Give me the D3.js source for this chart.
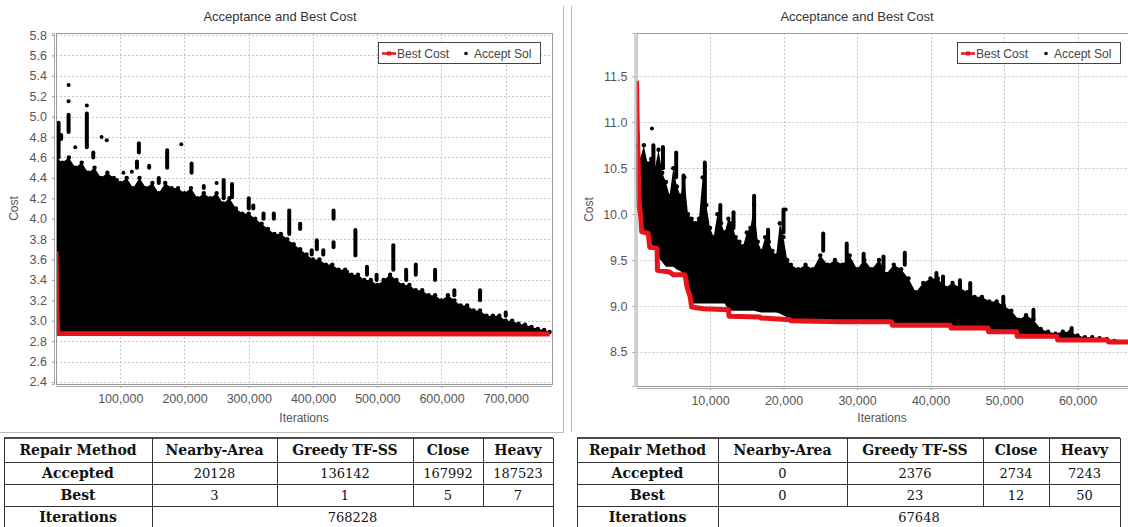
<!DOCTYPE html>
<html>
<head>
<meta charset="utf-8">
<script src="https://cdn.jsdelivr.net/npm/d3@7"></script>
<style>
  body { margin: 0; background: #fff; }
  .chart text { font-family: "Liberation Sans", Arial, sans-serif; }
  .tbl text { font-family: "DejaVu Serif", serif; fill: #111; }
</style>
</head>
<body>
<div class="canvas"></div>
<script>
// ---------- data: left run ----------
const yTicksL = [2.4, 2.6, 2.8, 3.0, 3.2, 3.4, 3.6, 3.8, 4.0, 4.2, 4.4, 4.6, 4.8, 5.0, 5.2, 5.4, 5.6, 5.8];
const xTicksL = [100000, 200000, 300000, 400000, 500000, 600000, 700000];

// best cost [iteration, cost]
const bestL = [[0, 3.68], [400, 3.5], [900, 3.2], [1500, 3.1], [2200, 2.96], [3000, 2.875], [768228, 2.87]];

// dense accepted-solution cloud [iteration, low, high]
const cloudL = [
  [0, 2.88, 4.6], [10000, 2.88, 4.55], [20000, 2.88, 4.6], [30000, 2.88, 4.5], [40000, 2.88, 4.55],
  [50000, 2.88, 4.45], [60000, 2.88, 4.5], [70000, 2.88, 4.4], [80000, 2.88, 4.45], [90000, 2.88, 4.4],
  [100000, 2.88, 4.35], [110000, 2.88, 4.4], [120000, 2.88, 4.3], [130000, 2.88, 4.4], [140000, 2.88, 4.3],
  [150000, 2.88, 4.35], [160000, 2.88, 4.25], [170000, 2.88, 4.35], [180000, 2.88, 4.3], [190000, 2.88, 4.3],
  [200000, 2.88, 4.25], [210000, 2.88, 4.3], [220000, 2.88, 4.2], [230000, 2.88, 4.25], [240000, 2.88, 4.2],
  [250000, 2.88, 4.25], [260000, 2.88, 4.15], [270000, 2.88, 4.2], [280000, 2.88, 4.1], [290000, 2.88, 4.05],
  [300000, 2.88, 4.05], [310000, 2.88, 4.0], [320000, 2.88, 3.95], [330000, 2.88, 3.9], [340000, 2.88, 3.85],
  [350000, 2.88, 3.85], [360000, 2.88, 3.8], [370000, 2.88, 3.75], [380000, 2.88, 3.7], [390000, 2.88, 3.65],
  [400000, 2.88, 3.6], [410000, 2.88, 3.6], [420000, 2.88, 3.55], [430000, 2.88, 3.55], [440000, 2.88, 3.5],
  [450000, 2.88, 3.5], [460000, 2.88, 3.45], [470000, 2.88, 3.45], [480000, 2.88, 3.4], [490000, 2.88, 3.4],
  [500000, 2.88, 3.35], [510000, 2.88, 3.4], [520000, 2.88, 3.45], [530000, 2.88, 3.4], [540000, 2.88, 3.35],
  [550000, 2.88, 3.35], [560000, 2.88, 3.3], [570000, 2.88, 3.3], [580000, 2.88, 3.25], [590000, 2.88, 3.25],
  [600000, 2.88, 3.2], [610000, 2.88, 3.25], [620000, 2.88, 3.2], [630000, 2.88, 3.15], [640000, 2.88, 3.15],
  [650000, 2.88, 3.1], [660000, 2.88, 3.1], [670000, 2.88, 3.05], [680000, 2.88, 3.05], [690000, 2.88, 3.05],
  [700000, 2.88, 3.0], [710000, 2.88, 3.0], [720000, 2.88, 2.97], [730000, 2.88, 2.96], [740000, 2.88, 2.94],
  [750000, 2.88, 2.92], [760000, 2.88, 2.91], [768228, 2.88, 2.89]
];

// stray accepted solutions above the cloud [iteration, low, high]
const spikesL = [
  [4000, 4.6, 4.94], [8000, 4.78, 4.82], [19600, 4.85, 5.02], [19600, 5.15, 5.15], [19600, 5.31, 5.31],
  [30000, 4.7, 4.7], [48000, 4.7, 5.03], [48000, 5.11, 5.11], [58000, 4.6, 4.65], [71000, 4.8, 4.8],
  [79000, 4.77, 4.77], [95000, 4.38, 4.38], [105000, 4.45, 4.45], [118000, 4.46, 4.46], [126000, 4.5, 4.56],
  [129000, 4.65, 4.74], [145000, 4.5, 4.52], [160000, 4.35, 4.4], [173000, 4.5, 4.67], [195000, 4.73, 4.73],
  [211000, 4.45, 4.54], [230000, 4.3, 4.32], [250000, 4.35, 4.35], [261000, 4.2, 4.38], [274000, 4.21, 4.34],
  [300000, 4.1, 4.2], [307000, 4.1, 4.13], [323000, 4.0, 4.05], [339000, 4.0, 4.05], [363000, 3.85, 4.08],
  [380000, 3.9, 3.95], [398000, 3.65, 3.69], [406000, 3.7, 3.79], [416000, 3.65, 3.69], [432000, 4.0, 4.08],
  [432000, 3.72, 3.77], [453000, 3.45, 3.48], [466000, 3.64, 3.89], [484000, 3.45, 3.53], [499000, 3.4, 3.45],
  [525000, 3.5, 3.74], [545000, 3.4, 3.5], [560000, 3.45, 3.55], [590000, 3.4, 3.5], [620000, 3.25, 3.3],
  [660000, 3.2, 3.3], [700000, 3.05, 3.08]
];

// ---------- data: right run ----------
const yTicksR = [8.5, 9.0, 9.5, 10.0, 10.5, 11.0, 11.5];
const xTicksR = [10000, 20000, 30000, 40000, 50000, 60000];

const bestR = [
  [0, 11.45], [50, 11.2], [100, 10.95], [150, 10.8], [200, 10.65], [300, 10.3], [400, 10.1], [600, 9.95],
  [700, 9.81], [1600, 9.79], [1800, 9.64], [2800, 9.63], [2850, 9.39], [4500, 9.37], [5000, 9.34], [6600, 9.34],
  [6900, 9.2], [7300, 9.1], [7500, 8.99], [9100, 8.97], [12500, 8.96], [12600, 8.89], [16800, 8.88],
  [16900, 8.87], [20900, 8.85], [21000, 8.84], [27700, 8.83], [34700, 8.83], [34800, 8.79], [42700, 8.79],
  [42800, 8.76], [47800, 8.76], [47900, 8.72], [51700, 8.72], [51800, 8.67], [57200, 8.67], [57300, 8.63],
  [64100, 8.63], [64200, 8.61], [67648, 8.61]
];

const cloudR = [
  [0, 10.1, 10.75], [500, 9.95, 10.6], [1000, 9.85, 10.75], [1500, 9.8, 10.55], [2000, 9.7, 10.6],
  [2500, 9.65, 10.5], [3000, 9.55, 10.7], [3500, 9.5, 10.45], [4000, 9.45, 10.35], [4500, 9.45, 10.2],
  [5000, 9.45, 10.5], [5500, 9.42, 10.3], [6000, 9.4, 10.2], [6500, 9.35, 10.4], [7000, 9.3, 10.0],
  [7500, 9.05, 9.95], [8000, 9.05, 9.9], [8500, 9.05, 9.95], [9000, 9.05, 10.4], [9500, 9.05, 10.1],
  [10000, 9.05, 9.85], [10500, 9.05, 9.75], [11000, 9.05, 10.0], [11500, 9.05, 9.9], [12000, 9.05, 9.8],
  [12500, 8.98, 9.95], [13000, 8.97, 9.9], [13500, 8.97, 9.75], [14000, 8.97, 9.7], [14500, 8.97, 9.65],
  [15000, 8.97, 9.8], [15500, 8.97, 9.85], [16000, 8.97, 10.1], [16500, 8.96, 9.7], [17000, 8.95, 9.6],
  [17500, 8.95, 9.75], [18000, 8.95, 9.7], [18500, 8.95, 9.6], [19000, 8.95, 9.55], [19500, 8.94, 9.9],
  [20000, 8.92, 9.75], [20500, 8.9, 9.5], [21000, 8.87, 9.45], [22000, 8.87, 9.4], [23000, 8.87, 9.45],
  [24000, 8.87, 9.4], [25000, 8.87, 9.55], [26000, 8.87, 9.45], [27000, 8.86, 9.5], [28000, 8.86, 9.45],
  [29000, 8.86, 9.55], [30000, 8.86, 9.4], [31000, 8.86, 9.5], [32000, 8.86, 9.4], [33000, 8.86, 9.5],
  [34000, 8.86, 9.35], [35000, 8.82, 9.45], [36000, 8.82, 9.4], [37000, 8.82, 9.3], [38000, 8.82, 9.15],
  [39000, 8.82, 9.25], [40000, 8.82, 9.3], [41000, 8.82, 9.3], [42000, 8.82, 9.2], [43000, 8.79, 9.25],
  [44000, 8.79, 9.2], [45000, 8.79, 9.15], [46000, 8.79, 9.1], [47000, 8.79, 9.1], [48000, 8.75, 9.05],
  [49000, 8.75, 9.05], [50000, 8.75, 9.0], [51000, 8.75, 8.95], [52000, 8.7, 8.85], [53000, 8.7, 8.9],
  [54000, 8.7, 8.85], [55000, 8.7, 8.75], [56000, 8.7, 8.72], [57000, 8.7, 8.7], [58000, 8.66, 8.72],
  [59000, 8.66, 8.72], [60000, 8.66, 8.68], [61000, 8.65, 8.66], [62000, 8.65, 8.66], [63000, 8.64, 8.65],
  [64000, 8.64, 8.64], [65000, 8.62, 8.62], [67648, 8.62, 8.62]
];

const spikesR = [
  [2100, 10.93, 10.93], [2300, 10.5, 10.75], [3600, 10.5, 10.73], [5400, 10.4, 10.67], [6400, 10.2, 10.42],
  [9300, 10.0, 10.56], [11400, 9.9, 10.1], [13200, 9.85, 10.02], [16000, 9.9, 10.2], [17900, 9.7, 9.83],
  [20000, 9.8, 10.05], [20300, 10.05, 10.05], [25400, 9.6, 9.79], [28600, 9.5, 9.68], [30900, 9.45, 9.57],
  [33600, 9.4, 9.54], [36500, 9.45, 9.58], [40800, 9.25, 9.36], [41700, 9.2, 9.32], [44000, 9.15, 9.28],
  [45400, 9.1, 9.25], [49900, 9.0, 9.1], [54000, 8.85, 8.96], [59200, 8.7, 8.76]
];

// ---------- data: tables ----------
const tableHeader = ["Repair Method", "Nearby-Area", "Greedy TF-SS", "Close", "Heavy"];
const rowLabels = ["Accepted", "Best", "Iterations"];
const acceptedL = [20128, 136142, 167992, 187523];
const bestCountL = [3, 1, 5, 7];
const iterationsL = 768228;
const acceptedR = [0, 2376, 2734, 7243];
const bestCountR = [0, 23, 12, 50];
const iterationsR = 67648;

const W = 1128, H = 527;
const svg = d3.select(".canvas").append("svg")
    .attr("width", W)
    .attr("height", H);

// draws one JFreeChart-like panel
function drawChart(cfg) {
  const g = svg.append("g").attr("class", "chart");
  const x = d3.scaleLinear().domain(cfg.xDomain).range([cfg.left, cfg.right]);
  const y = d3.scaleLinear().domain(cfg.yDomain).range([cfg.bottom, cfg.top]);
  const pw = Math.min(cfg.right, W + 20) - cfg.left;

  g.append("clipPath").attr("id", cfg.id)
    .append("rect")
    .attr("x", cfg.left).attr("y", cfg.top)
    .attr("width", cfg.right - cfg.left).attr("height", cfg.bottom - cfg.top);

  // title
  g.append("text")
    .attr("x", cfg.titleX).attr("y", 21)
    .attr("text-anchor", "middle")
    .style("font-size", "13px").style("fill", "#333")
    .text("Acceptance and Best Cost");

  // grid
  const grid = g.append("g")
    .attr("stroke", "#c8c8c8").attr("stroke-width", 1).attr("stroke-dasharray", "2,2");
  grid.selectAll(".gy").data(cfg.yTicks).join("line")
    .attr("x1", cfg.left).attr("x2", cfg.right)
    .attr("y1", d => Math.round(y(d)) + 0.5).attr("y2", d => Math.round(y(d)) + 0.5);
  grid.selectAll(".gx").data(cfg.xTicks).join("line")
    .attr("y1", cfg.top).attr("y2", cfg.bottom)
    .attr("x1", d => Math.round(x(d)) + 0.5).attr("x2", d => Math.round(x(d)) + 0.5);

  const plot = g.append("g").attr("clip-path", "url(#" + cfg.id + ")");

  // accepted solution cloud
  const area = d3.area()
    .x(d => x(d[0]))
    .y0(d => y(d[1]) + 2)
    .y1(d => y(d[2]));
  plot.append("path")
    .datum(cfg.cloud)
    .attr("d", area)
    .attr("fill", "#000");

  plot.selectAll(".cap").data(cfg.cloud).join("circle")
    .attr("cx", d => x(d[0]))
    .attr("cy", d => y(d[2]))
    .attr("r", 2.2)
    .attr("fill", "#000");

  // stray accepted points, stacked dots drawn as round-capped strokes
  plot.selectAll(".spike").data(cfg.spikes).join("line")
    .attr("x1", d => x(d[0])).attr("x2", d => x(d[0]))
    .attr("y1", d => y(d[1])).attr("y2", d => y(d[2]))
    .attr("stroke", "#000")
    .attr("stroke-width", 4)
    .attr("stroke-linecap", "round");

  // best cost line
  const line = d3.line().x(d => x(d[0])).y(d => y(d[1]));
  plot.append("path")
    .datum(cfg.best)
    .attr("d", line)
    .attr("fill", "none")
    .attr("stroke", "#e8141b")
    .attr("stroke-width", 5)
    .attr("stroke-linejoin", "round");

  // plot outline
  g.append("rect")
    .attr("x", cfg.left + 0.5).attr("y", cfg.top + 0.5)
    .attr("width", pw).attr("height", cfg.bottom - cfg.top)
    .attr("fill", "none").attr("stroke", "#999");

  // axes
  const yAxis = g.append("g")
    .attr("transform", "translate(" + (cfg.left - 2) + ",0)")
    .call(d3.axisLeft(y).tickValues(cfg.yTicks).tickFormat(d3.format(".1f")).tickSize(2).tickPadding(5));
  const xAxis = g.append("g")
    .attr("transform", "translate(0," + (cfg.bottom + 2) + ")")
    .call(d3.axisBottom(x).tickValues(cfg.xTicks).tickFormat(d3.format(",")).tickSize(2).tickPadding(6));
  [yAxis, xAxis].forEach(a => {
    a.select(".domain").attr("stroke", "#aaa");
    a.selectAll(".tick line").attr("stroke", "#999");
    a.selectAll("text")
      .style("font-family", "\"Liberation Sans\", Arial, sans-serif")
      .style("font-size", "12.5px").style("fill", "#555");
  });
  xAxis.select(".domain").attr("d", "M" + cfg.left + ",0.5H" + (cfg.left + pw));

  // axis labels
  g.append("text")
    .attr("transform", "translate(" + cfg.yLabelX + "," + ((cfg.top + cfg.bottom) / 2) + ") rotate(-90)")
    .attr("text-anchor", "middle")
    .style("font-size", "12px").style("fill", "#555")
    .text("Cost");
  g.append("text")
    .attr("x", cfg.xLabelX).attr("y", 422)
    .attr("text-anchor", "middle")
    .style("font-size", "12px").style("fill", "#555")
    .text("Iterations");

  // legend
  const lg = g.append("g").attr("transform", "translate(" + cfg.legendX + ",42)");
  lg.append("rect").attr("x", 0.5).attr("y", 0.5)
    .attr("width", cfg.legendW).attr("height", 21)
    .attr("fill", "#fff").attr("stroke", "#444");
  lg.append("line").attr("x1", 4).attr("x2", 18).attr("y1", 11.5).attr("y2", 11.5)
    .attr("stroke", "#e8141b").attr("stroke-width", 2.5);
  lg.append("rect").attr("x", 9).attr("y", 9.5).attr("width", 4).attr("height", 4).attr("fill", "#e8141b");
  lg.append("text").attr("x", 19).attr("y", 15.5)
    .style("font-size", "12px").style("fill", "#444").text("Best Cost");
  lg.append("circle").attr("cx", cfg.legendW - 74).attr("cy", 11.5).attr("r", 1.8).attr("fill", "#000");
  lg.append("text").attr("x", cfg.legendW - 66).attr("y", 15.5)
    .style("font-size", "12px").style("fill", "#444").text("Accept Sol");
}

drawChart({
  id: "clipL", left: 56, right: 552, top: 33, bottom: 384,
  xDomain: [0, 772000], yDomain: [2.38, 5.82],
  xTicks: xTicksL, yTicks: yTicksL,
  best: bestL, cloud: cloudL, spikes: spikesL,
  titleX: 280, yLabelX: 18, xLabelX: 304, legendX: 378, legendW: 162
});

drawChart({
  id: "clipR", left: 636.5, right: 1140, top: 33, bottom: 386,
  xDomain: [0, 68500], yDomain: [8.13, 11.97],
  xTicks: xTicksR, yTicks: yTicksR,
  best: bestR, cloud: cloudR, spikes: spikesR,
  titleX: 857, yLabelX: 593, xLabelX: 882, legendX: 957, legendW: 163
});

// panel frames
const frame = svg.append("g").attr("stroke", "#bbb").attr("fill", "none");
frame.append("path").attr("d", "M0,432.5H563.5V6");
frame.append("path").attr("d", "M571.5,432V6");

// tables under the charts
function drawTable(cols, accepted, bestCount, iterations) {
  const t = svg.append("g").attr("class", "tbl");
  const rowsY = [438, 462, 484, 506, 528];
  const left = cols[0], right = cols[cols.length - 1];
  t.append("line").attr("x1", left).attr("x2", right).attr("y1", 438).attr("y2", 438)
    .attr("stroke", "#111").attr("stroke-width", 1.6);
  rowsY.slice(1).forEach(ry => {
    t.append("line").attr("x1", left).attr("x2", right).attr("y1", ry + 0.5).attr("y2", ry + 0.5)
      .attr("stroke", "#333").attr("stroke-width", 1);
  });
  cols.forEach((cx, i) => {
    const full = (i === 0 || i === 1 || i === cols.length - 1);
    t.append("line").attr("x1", cx + 0.5).attr("x2", cx + 0.5)
      .attr("y1", 438).attr("y2", full ? 528 : 506)
      .attr("stroke", "#333").attr("stroke-width", 1);
  });
  const mid = i => (cols[i] + cols[i + 1]) / 2;
  const cy = r => (rowsY[r] + rowsY[r + 1]) / 2;
  tableHeader.forEach((h, i) => {
    t.append("text").attr("x", mid(i)).attr("y", cy(0)).attr("dy", "0.36em")
      .attr("text-anchor", "middle").style("font-weight", "bold").style("font-size", "14px").text(h);
  });
  rowLabels.forEach((lab, r) => {
    t.append("text").attr("x", mid(0)).attr("y", cy(r + 1)).attr("dy", "0.36em")
      .attr("text-anchor", "middle").style("font-weight", "bold").style("font-size", "14px").text(lab);
  });
  [accepted, bestCount].forEach((vals, r) => {
    vals.forEach((v, i) => {
      t.append("text").attr("x", mid(i + 1)).attr("y", cy(r + 1)).attr("dy", "0.36em")
        .attr("text-anchor", "middle").style("font-size", "13px").text(v);
    });
  });
  t.append("text").attr("x", (cols[1] + right) / 2).attr("y", cy(3)).attr("dy", "0.36em")
    .attr("text-anchor", "middle").style("font-size", "13px").text(iterations);
}

drawTable([4, 152, 277, 413, 483, 553], acceptedL, bestCountL, iterationsL);
drawTable([577, 718, 847, 983, 1049, 1120], acceptedR, bestCountR, iterationsR);
</script>
</body>
</html>
